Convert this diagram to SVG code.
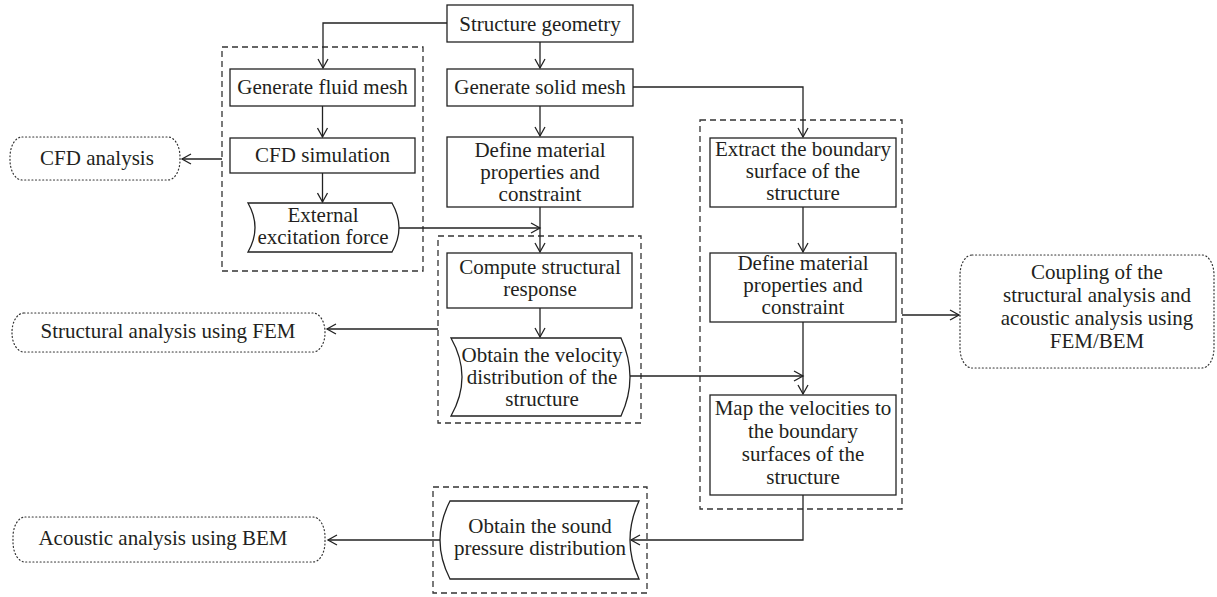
<svg xmlns="http://www.w3.org/2000/svg" width="1217" height="597" viewBox="0 0 1217 597">
<style>
.bg{fill:#fff}
.box{fill:#fff;stroke:#222;stroke-width:1.3}
.grp{fill:none;stroke:#333;stroke-width:1.3;stroke-dasharray:6 4}
.term{fill:#fff;stroke:#333;stroke-width:1.2;stroke-dasharray:1 2.6;stroke-linecap:round}
.c{fill:none;stroke:#222;stroke-width:1.3}
text{font-family:"Liberation Serif","Times New Roman",serif;font-size:21px;fill:#231f20;text-anchor:middle}
</style>
<defs>
<marker id="arr" viewBox="-10 -6 12 12" refX="0" refY="0" markerWidth="12" markerHeight="12" markerUnits="userSpaceOnUse" orient="auto">
<path d="M-9,-5 L0,0 L-9,5" fill="none" stroke="#222" stroke-width="1.3"/>
</marker>
</defs>
<rect class="bg" x="0" y="0" width="1217" height="597"/>

<g id="groups">
<rect id="grp-cfd" class="grp" x="222" y="47" width="201" height="224"/>
<rect id="grp-fem" class="grp" x="438" y="236" width="203" height="187"/>
<rect id="grp-couple" class="grp" x="700" y="120" width="202" height="389"/>
<rect id="grp-bem" class="grp" x="433" y="487" width="214" height="106"/>
</g>

<g id="connectors">
<path class="c" d="M447,23 H323 V68" marker-end="url(#arr)"/>
<path class="c" d="M540,42 V68" marker-end="url(#arr)"/>
<path class="c" d="M322.5,106 V137" marker-end="url(#arr)"/>
<path class="c" d="M322.5,173 V202" marker-end="url(#arr)"/>
<path class="c" d="M540,106 V136" marker-end="url(#arr)"/>
<path class="c" d="M633,87 H803 V137" marker-end="url(#arr)"/>
<path class="c" d="M540,207 V252" marker-end="url(#arr)"/>
<path class="c" d="M399,228 H540" marker-end="url(#arr)"/>
<path class="c" d="M540,308 V337" marker-end="url(#arr)"/>
<path class="c" d="M630,376 H803" marker-end="url(#arr)"/>
<path class="c" d="M803,207 V252" marker-end="url(#arr)"/>
<path class="c" d="M803,322 V394" marker-end="url(#arr)"/>
<path class="c" d="M803,495 V540 H631" marker-end="url(#arr)"/>
<path class="c" d="M440,540 H328" marker-end="url(#arr)"/>
<path class="c" d="M222,159 H182" marker-end="url(#arr)"/>
<path class="c" d="M438,329 H327" marker-end="url(#arr)"/>
<path class="c" d="M902,315 H959" marker-end="url(#arr)"/>
</g>

<g id="n-geometry">
<rect class="box" x="447" y="5" width="186" height="37"/>
<text x="540" y="31">Structure geometry</text>
</g>
<g id="n-fluidmesh">
<rect class="box" x="230" y="69" width="185" height="37"/>
<text x="322.5" y="94">Generate fluid mesh</text>
</g>
<g id="n-solidmesh">
<rect class="box" x="447" y="69" width="186" height="37"/>
<text x="540" y="94">Generate solid mesh</text>
</g>
<g id="n-cfdsim">
<rect class="box" x="230" y="138" width="185" height="35"/>
<text x="322.5" y="162">CFD simulation</text>
</g>
<g id="n-excitation">
<path class="box" d="M248,203 L392,203 Q406,227.5 392,252 L248,252 Q262,227.5 248,203 Z"/>
<text x="323" y="222">External</text>
<text x="323" y="244">excitation force</text>
</g>
<g id="n-define1">
<rect class="box" x="447" y="137" width="186" height="70"/>
<text x="540" y="157">Define material</text>
<text x="540" y="179">properties and</text>
<text x="540" y="201">constraint</text>
</g>
<g id="n-compute">
<rect class="box" x="447" y="253" width="185" height="55"/>
<text x="540" y="274">Compute structural</text>
<text x="540" y="296">response</text>
</g>
<g id="n-velocity">
<path class="box" d="M451,338 L621,338 Q639,377 621,416 L451,416 Q473,377 451,338 Z"/>
<text x="542" y="362">Obtain the velocity</text>
<text x="542" y="384">distribution of the</text>
<text x="542" y="406">structure</text>
</g>
<g id="n-extract">
<rect class="box" x="710" y="138" width="186" height="69"/>
<text x="803" y="156">Extract the boundary</text>
<text x="803" y="178">surface of the</text>
<text x="803" y="200">structure</text>
</g>
<g id="n-define2">
<rect class="box" x="710" y="253" width="186" height="69"/>
<text x="803" y="270">Define material</text>
<text x="803" y="292">properties and</text>
<text x="803" y="314">constraint</text>
</g>
<g id="n-map">
<rect class="box" x="710" y="395" width="186" height="100"/>
<text x="803" y="415">Map the velocities to</text>
<text x="803" y="438">the boundary</text>
<text x="803" y="461">surfaces of the</text>
<text x="803" y="484">structure</text>
</g>
<g id="n-sound">
<path class="box" d="M450,501 L639,501 Q621,540 639,579 L450,579 Q430,540 450,501 Z"/>
<text x="540" y="533">Obtain the sound</text>
<text x="540" y="555">pressure distribution</text>
</g>

<g id="t-cfd">
<rect class="term" x="10" y="137" width="170" height="43" rx="12" ry="20"/>
<text x="97" y="165">CFD analysis</text>
</g>
<g id="t-fem">
<rect class="term" x="12" y="313" width="313" height="39" rx="12" ry="19"/>
<text x="168" y="338">Structural analysis using FEM</text>
</g>
<g id="t-bem">
<rect class="term" x="13" y="517" width="312" height="45" rx="12" ry="20"/>
<text x="163" y="545">Acoustic analysis using BEM</text>
</g>
<g id="t-couple">
<rect class="term" x="960" y="255" width="254" height="113" rx="12" ry="20"/>
<text x="1097" y="279">Coupling of the</text>
<text x="1097" y="302">structural analysis and</text>
<text x="1097" y="325">acoustic analysis using</text>
<text x="1097" y="348">FEM/BEM</text>
</g>
</svg>
